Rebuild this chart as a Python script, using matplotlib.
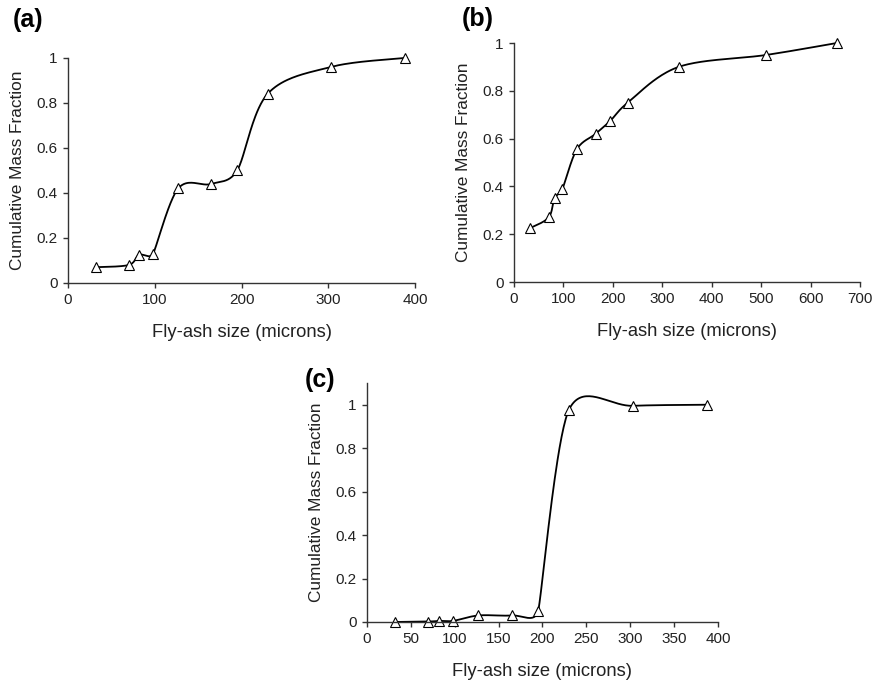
import matplotlib
matplotlib.use("Agg")
import matplotlib.pyplot as plt
import numpy as np

plt.rcParams['font.family'] = ['Liberation Sans', 'DejaVu Sans']

# panel (a)
size_a = [32, 70, 82, 98, 127, 165, 195, 230, 303, 388]
frac_a = [0.07, 0.08, 0.125, 0.13, 0.42, 0.44, 0.50, 0.84, 0.96, 1.0]
# panel (b)
size_b = [32, 70, 82, 98, 127, 165, 195, 230, 333, 510, 653]
frac_b = [0.225, 0.27, 0.35, 0.39, 0.555, 0.62, 0.675, 0.75, 0.90, 0.95, 1.0]
# panel (c)
size_c = [32, 70, 82, 98, 127, 165, 195, 230, 303, 388]
frac_c = [0.0, 0.002, 0.005, 0.005, 0.03, 0.03, 0.05, 0.975, 0.995, 1.0]

xticks_a = [0, 100, 200, 300, 400]
xticks_b = [0, 100, 200, 300, 400, 500, 600, 700]
xticks_c = [0, 50, 100, 150, 200, 250, 300, 350, 400]
yticks = [0, 0.2, 0.4, 0.6, 0.8, 1]


def smooth(ax, x, y, n=40):
    # spreadsheet-style smoothed line, worked out in screen space:
    # Bezier segments, tangent = (next - prev) / 6, capped at half the shorter neighbour segment
    p = ax.transData.transform(np.column_stack([x, y]).astype(float))
    m = len(p)
    tang = np.zeros_like(p)
    for i in range(m):
        a = p[i - 1] if i > 0 else p[i]
        b = p[i + 1] if i + 1 < m else p[i]
        t = (b - a) / 6
        L = np.hypot(*t)
        lim = []
        if i > 0:
            lim.append(np.hypot(*(p[i] - p[i - 1])) / 2)
        if i + 1 < m:
            lim.append(np.hypot(*(p[i + 1] - p[i])) / 2)
        if L > min(lim):
            t = t * min(lim) / L
        tang[i] = t
    out = [p[0]]
    s = np.linspace(0, 1, n)[1:, None]
    for i in range(m - 1):
        c1 = p[i] + tang[i]
        c2 = p[i + 1] - tang[i + 1]
        seg = (1 - s) ** 3 * p[i] + 3 * (1 - s) ** 2 * s * c1 + 3 * (1 - s) * s ** 2 * c2 + s ** 3 * p[i + 1]
        out.extend(seg)
    out = ax.transData.inverted().transform(np.array(out))
    return out[:, 0], out[:, 1]


def panel(rect, x, y, xticks, xmax, ymax):
    ax = fig.add_axes(rect)
    ax.set_xlim(0, xmax)
    ax.set_ylim(0, ymax)
    sx, sy = smooth(ax, x, y)
    ax.plot(sx, sy, color='black', linewidth=1.3, clip_on=False)
    ax.plot(x, y, linestyle='none', marker='^', markersize=7, markerfacecolor='white',
            markeredgecolor='black', markeredgewidth=0.8, clip_on=False)
    ax.set_xticks(xticks)
    ax.set_yticks(yticks)
    ax.set_yticklabels(['0', '0.2', '0.4', '0.6', '0.8', '1'])
    for s in ['top', 'right']:
        ax.spines[s].set_visible(False)
    for s in ['left', 'bottom']:
        ax.spines[s].set_color('#333333')
        ax.spines[s].set_linewidth(1.0)
    ax.tick_params(direction='out', length=3.5, width=1.0, color='#333333', labelsize=11,
                   labelcolor='#222222', pad=4)
    ax.set_xlabel('Fly-ash size (microns)', fontsize=13.2, color='#222222', labelpad=12)
    ax.set_ylabel('Cumulative Mass Fraction', fontsize=12.4, color='#222222', labelpad=8)
    return ax


fig = plt.figure(figsize=(8.8, 6.85), dpi=100)

panel([0.0773, 0.5869, 0.3943, 0.3285], size_a, frac_a, xticks_a, 400, 1.0)
panel([0.5841, 0.5883, 0.3932, 0.3489], size_b, frac_b, xticks_b, 700, 1.0)
panel([0.4170, 0.0920, 0.3989, 0.3489], size_c, frac_c, xticks_c, 400, 1.1)

fig.text(0.0148, 0.971, '(a)', fontsize=18, fontweight='bold', va='center')
fig.text(0.525, 0.972, '(b)', fontsize=18, fontweight='bold', va='center')
fig.text(0.3466, 0.4453, '(c)', fontsize=18, fontweight='bold', va='center')

fig.savefig('out.png', dpi=100)
